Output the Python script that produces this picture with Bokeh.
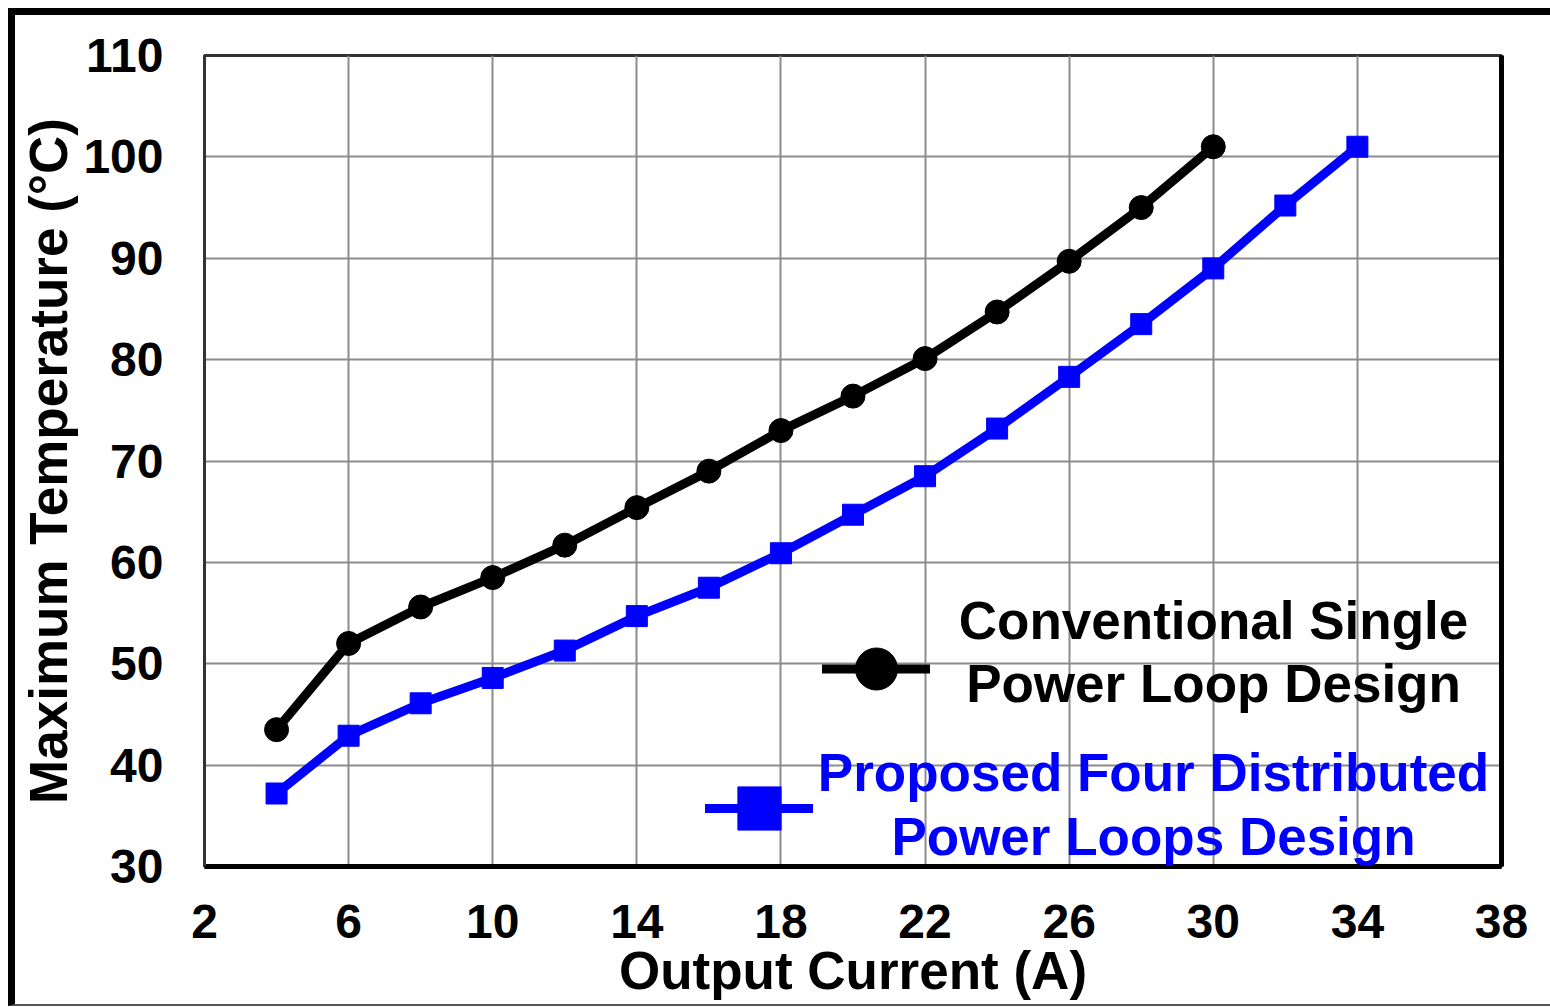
from bokeh.plotting import figure
from bokeh.layouts import column
from bokeh.models import (FixedTicker, LinearAxis, Legend, LegendItem, Label, Range1d)
from bokeh.embed import file_html
from bokeh.resources import INLINE

# ---- data ----
current_conv = [4, 6, 8, 10, 12, 14, 16, 18, 20, 22, 24, 26, 28, 30]
temp_conv = [43.5, 52.0, 55.6, 58.5, 61.7, 65.4, 69.0, 73.0, 76.4, 80.1, 84.7, 89.7, 95.0, 101.0]
current_prop = [4, 6, 8, 10, 12, 14, 16, 18, 20, 22, 24, 26, 28, 30, 32, 34]
temp_prop = [37.2, 42.9, 46.1, 48.6, 51.3, 54.7, 57.5, 60.9, 64.7, 68.5, 73.2, 78.3, 83.5, 89.0, 95.2, 101.0]
x_ticks = [2, 6, 10, 14, 18, 22, 26, 30, 34, 38]
y_ticks = [30, 40, 50, 60, 70, 80, 90, 100, 110]
conv_label = ["Conventional Single", "Power Loop Design"]
prop_label = ["Proposed Four Distributed", "Power Loops Design"]

FONT = "Liberation Sans"
PAGE_W = 1550
OX, OY = 15, 15           # figure origin on the page (inside outer frame)
BOTTOM = 1004             # page y where figure ends (gray rule below)
W, H = PAGE_W - OX, BOTTOM - OY
# frame edges in page coordinates
PL, PR, PT, PB = 204, 1501, 55, 866

p = figure(width=W, height=H, output_backend="svg", toolbar_location=None,
           x_range=Range1d(2, 38), y_range=Range1d(30, 110),
           min_border_left=PL - OX, min_border_right=PAGE_W - PR,
           min_border_top=PT - OY, min_border_bottom=BOTTOM - PB,
           background_fill_color="white", border_fill_color="white")

p.outline_line_color = "#333333"
p.outline_line_width = 3

for ax in (p.xaxis[0], p.yaxis[0]):
    ax.major_tick_line_color = None
    ax.minor_tick_line_color = None
    ax.major_label_text_font = FONT
    ax.major_label_text_font_style = "bold"
    ax.major_label_text_font_size = "48px"
    ax.major_label_text_color = "black"
    ax.axis_label_text_font = FONT
    ax.axis_label_text_font_style = "bold"
    ax.axis_label_text_font_size = "53px"
    ax.axis_label_text_color = "black"

p.xaxis.ticker = FixedTicker(ticks=x_ticks)
p.yaxis.ticker = FixedTicker(ticks=y_ticks)
p.xaxis.axis_label = "Output Current (A)"
p.yaxis.axis_label = "Maximum Temperature (°C)"
p.xaxis.major_label_standoff = 32
p.yaxis.major_label_standoff = 35
p.xaxis.axis_label_standoff = 0
p.yaxis.axis_label_standoff = 2
p.xaxis.axis_line_color = "black"
p.xaxis.axis_line_width = 5
p.yaxis.axis_line_color = "#333333"
p.yaxis.axis_line_width = 3

right_ax = LinearAxis(major_tick_line_color=None, minor_tick_line_color=None,
                      major_label_text_font_size="0px", axis_line_color="black",
                      axis_line_width=5, ticker=FixedTicker(ticks=[]))
p.add_layout(right_ax, "right")

p.grid.grid_line_color = "#8c8c8c"
p.grid.grid_line_width = 2
p.xgrid.ticker = FixedTicker(ticks=x_ticks)
p.ygrid.ticker = FixedTicker(ticks=y_ticks)

# ---- series ----
l1 = p.line(current_conv, temp_conv, line_color="black", line_width=9,
            line_join="round", line_cap="round")
s1 = p.scatter(current_conv, temp_conv, marker="circle", size=24,
               fill_color="black", line_color="black")
l2 = p.line(current_prop, temp_prop, line_color="#0000ff", line_width=9,
            line_join="round", line_cap="round")
s2 = p.scatter(current_prop, temp_prop, marker="square", size=21,
               fill_color="#0000ff", line_color="#0000ff")

# ---- legends (samples) ----
def make_legend(renderers, left, cy, gh):
    lg = Legend(items=[LegendItem(label=" ", renderers=renderers)],
                location=(left - PL, PB - (cy + gh / 2)), padding=0, margin=0, spacing=0,
                glyph_width=108, glyph_height=gh, label_standoff=0,
                label_width=1, label_height=1, label_text_font_size="1px",
                border_line_color=None, background_fill_alpha=0)
    p.add_layout(lg, "center")

make_legend([l1, s1], 822, 668, 105)
make_legend([l2, s2], 705, 808, 108)

# ---- legend texts ----
def add_text(txt, cx, baseline, color):
    p.add_layout(Label(x=cx - PL, y=PB - baseline + 19, x_units="screen", y_units="screen",
                       text=txt, text_align="center", text_baseline="alphabetic",
                       text_font=FONT, text_font_style="bold", text_font_size="53px",
                       text_color=color))

add_text(conv_label[0], 1213, 639, "black")
add_text(conv_label[1], 1213, 702, "black")
add_text(prop_label[0], 1153, 791, "#0000ff")
add_text(prop_label[1], 1153, 855, "#0000ff")

layout = column(p, styles={"margin-left": "8px", "margin-top": "8px",
                           "border-top": "7px solid black",
                           "border-left": "7px solid black",
                           "border-bottom": "2px solid #555555",
                           "background-color": "white"})

open("out.html", "w").write(file_html(layout, INLINE))
